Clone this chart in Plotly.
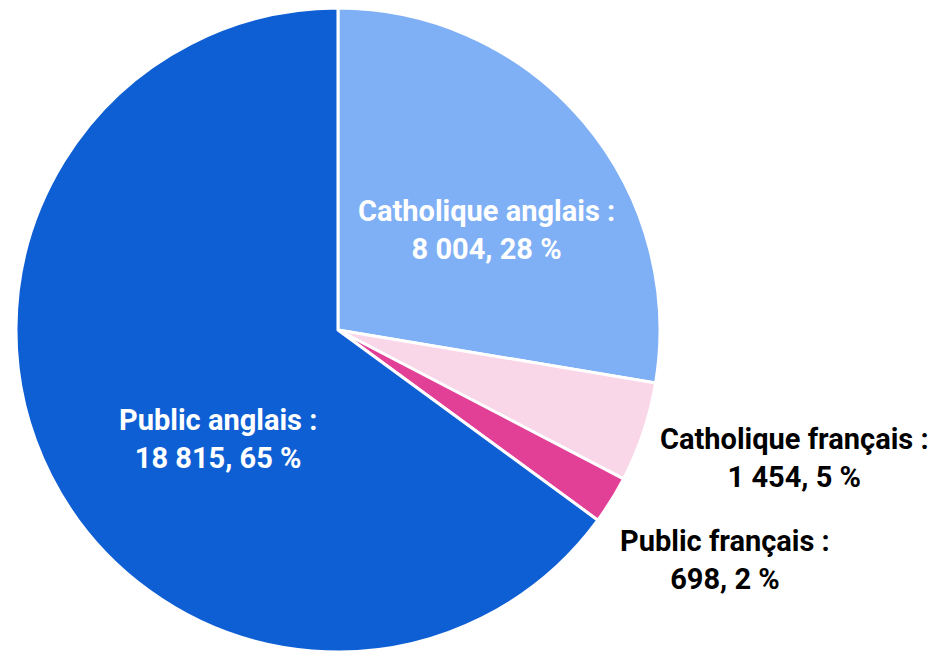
import plotly.graph_objects as go

categories = ["Catholique anglais", "Catholique français", "Public français", "Public anglais"]
counts = [8004, 1454, 698, 18815]
colors = ["#7FB0F5", "#F9D6E8", "#E23F97", "#0F5FD4"]
label_colors = ["white", "black", "black", "white"]

# label centres (paper coords)
label_x = [0.5139, 0.8444, 0.7693, 0.2253]
label_y = [0.6553, 0.3012, 0.1429, 0.3307]

FONT = "Roboto, Liberation Sans, sans-serif"


def fmt_num(v):
    return f"{v:,}".replace(",", " ")


total = sum(counts)

fig = go.Figure(go.Pie(
    labels=categories,
    values=counts,
    sort=False,
    direction="clockwise",
    rotation=0,
    textinfo="none",
    hoverinfo="label+value+percent",
    marker=dict(colors=colors, line=dict(color="white", width=3)),
    domain=dict(x=[0.0075, 0.7006], y=[0, 1]),
    showlegend=False,
))

for name, v, c, x, y in zip(categories, counts, label_colors, label_x, label_y):
    pct = round(100 * v / total)
    fig.add_annotation(
        x=x, y=y, xref="paper", yref="paper",
        xanchor="center", yanchor="middle",
        text=f"<b>{name} :<br>{fmt_num(v)}, {pct} %</b>",
        showarrow=False, align="center",
        font=dict(family=FONT, size=29, color=c),
    )

# page body adds an 8px offset, so the figure is shrunk to fit the window
fig.update_layout(
    width=932, height=644,
    margin=dict(l=0, r=0, t=0, b=0),
    paper_bgcolor="white",
    plot_bgcolor="white",
)

fig.write_html("out.html")
